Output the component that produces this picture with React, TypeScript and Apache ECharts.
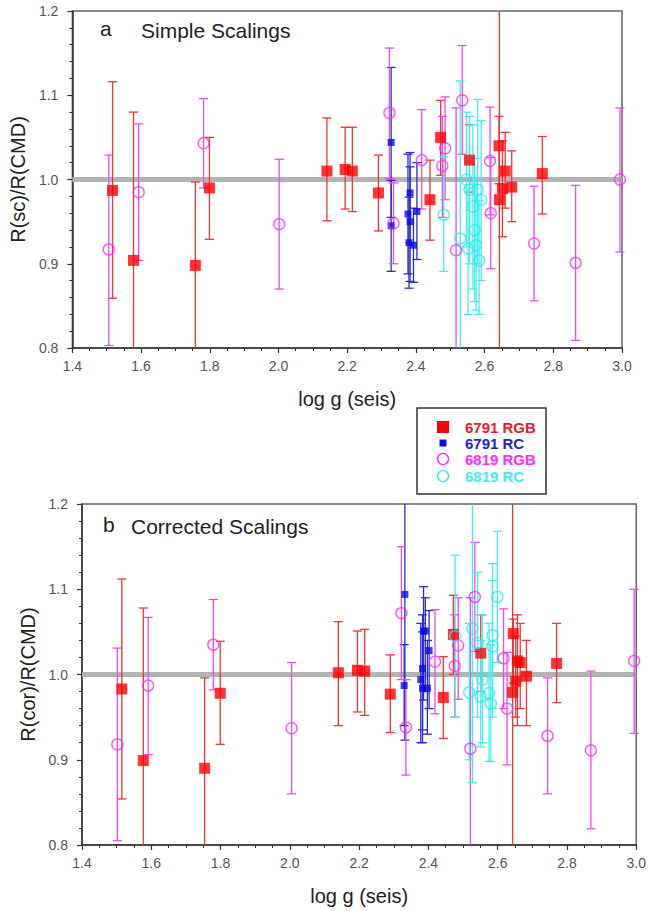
import React, { useEffect, useRef } from "react";
import * as echarts from "echarts";

// [logg, ratio, errLow, errHigh]
const rgb6791A = [
  [1.517, 0.987, 0.859, 1.116], [1.578, 0.904, 0.72, 1.08], [1.758, 0.898, 0.7, 0.997],
  [1.799, 0.99, 0.929, 1.05], [2.141, 1.01, 0.951, 1.073], [2.194, 1.012, 0.965, 1.062],
  [2.215, 1.01, 0.962, 1.062], [2.291, 0.984, 0.939, 1.029], [2.441, 0.976, 0.928, 1.023],
  [2.472, 1.05, 1.005, 1.094], [2.556, 1.023, 0.985, 1.065], [2.642, 1.04, 0.995, 1.075],
  [2.643, 0.976, 0.5, 1.5], [2.652, 0.989, 0.932, 1.046], [2.66, 1.01, 0.966, 1.056],
  [2.679, 0.991, 0.95, 1.034], [2.768, 1.007, 0.959, 1.051],
];
const rc6791A = [
  [2.328, 1.044, 0.955, 1.133], [2.328, 0.945, 0.891, 0.999], [2.377, 0.959, 0.888, 1.03],
  [2.383, 0.984, 0.925, 1.032], [2.38, 0.925, 0.871, 0.979], [2.383, 0.95, 0.879, 1.015],
  [2.393, 0.922, 0.878, 0.966], [2.403, 0.962, 0.905, 1.02],
];
const rgb6819A = [
  [1.506, 0.917, 0.803, 1.029], [1.593, 0.985, 0.904, 1.066], [1.782, 1.043, 0.99, 1.096],
  [2.002, 0.947, 0.87, 1.024], [2.323, 1.079, 1.001, 1.156], [2.335, 0.948, 0.9, 0.996],
  [2.417, 1.023, 0.965, 1.083], [2.477, 1.016, 0.955, 1.075], [2.485, 1.037, 0.976, 1.098],
  [2.517, 0.916, 0.745, 1.085], [2.535, 1.094, 1.03, 1.159], [2.616, 1.022, 0.958, 1.086],
  [2.618, 0.96, 0.894, 1.026], [2.744, 0.924, 0.856, 0.992], [2.865, 0.901, 0.809, 0.993],
  [2.994, 1.0, 0.914, 1.085],
];
const rc6819A = [
  [2.481, 0.958, 0.891, 1.027], [2.529, 0.93, 0.7, 1.117], [2.547, 1.0, 0.92, 1.08],
  [2.556, 0.988, 0.9, 1.075], [2.566, 0.968, 0.87, 1.065], [2.571, 0.94, 0.855, 1.025],
  [2.575, 0.922, 0.845, 1.0], [2.58, 0.988, 0.9, 1.095], [2.584, 0.904, 0.84, 0.975],
  [2.59, 0.976, 0.88, 1.07], [2.552, 0.918, 0.84, 0.99],
];

const rgb6791B = [
  [1.515, 0.983, 0.854, 1.112], [1.577, 0.899, 0.7, 1.078], [1.754, 0.89, 0.7, 0.996],
  [1.799, 0.978, 0.918, 1.039], [2.14, 1.002, 0.94, 1.062], [2.195, 1.005, 0.956, 1.051],
  [2.216, 1.004, 0.952, 1.053], [2.29, 0.977, 0.932, 1.023], [2.443, 0.973, 0.925, 1.021],
  [2.472, 1.047, 1.0, 1.093], [2.551, 1.025, 0.98, 1.07], [2.645, 1.048, 0.99, 1.065],
  [2.643, 0.979, 0.5, 1.5], [2.652, 0.992, 0.95, 1.045], [2.657, 1.016, 0.94, 1.07],
  [2.665, 1.014, 0.96, 1.06], [2.683, 0.998, 0.94, 1.04], [2.77, 1.013, 0.967, 1.06],
];
const rc6791B = [
  [2.332, 1.094, 0.923, 1.265], [2.33, 0.987, 0.94, 1.035], [2.386, 1.051, 0.97, 1.103],
  [2.391, 1.051, 0.98, 1.09], [2.402, 1.028, 0.96, 1.075], [2.383, 1.007, 0.935, 1.07],
  [2.378, 0.994, 0.92, 1.06], [2.383, 0.984, 0.92, 1.05], [2.397, 0.984, 0.93, 1.04],
];
const rgb6819B = [
  [1.502, 0.918, 0.805, 1.031], [1.591, 0.987, 0.906, 1.067], [1.779, 1.035, 0.982, 1.088],
  [2.005, 0.937, 0.86, 1.014], [2.322, 1.072, 0.994, 1.15], [2.335, 0.938, 0.882, 0.994],
  [2.419, 1.015, 0.954, 1.076], [2.476, 1.01, 0.95, 1.07], [2.486, 1.034, 0.971, 1.09],
  [2.521, 0.913, 0.7, 1.09], [2.534, 1.091, 1.027, 1.155], [2.617, 1.019, 0.96, 1.077],
  [2.627, 0.96, 0.894, 1.026], [2.744, 0.928, 0.86, 0.996], [2.869, 0.911, 0.819, 1.004],
  [2.994, 1.016, 0.931, 1.1],
];
const rc6819B = [
  [2.477, 1.045, 0.95, 1.14], [2.518, 0.979, 0.9, 1.06], [2.527, 1.054, 0.873, 1.235],
  [2.542, 1.037, 0.95, 1.12], [2.551, 0.974, 0.915, 1.04], [2.556, 0.994, 0.92, 1.07],
  [2.575, 0.978, 0.898, 1.06], [2.585, 1.046, 0.96, 1.13], [2.585, 1.033, 0.95, 1.11],
  [2.599, 1.091, 1.014, 1.168], [2.58, 0.966, 0.898, 1.035],
];

const xTicks = { min: 1.4, max: 3.0, step: 0.2 };
const yTicks = { min: 0.8, max: 1.2, step: 0.1 };
const refLine = [[1.4, 1.0], [3.0, 1.0]];
const legendNames = ["6791 RGB", "6791 RC", "6819 RGB", "6819 RC"];

const FONT = "'Liberation Sans', Arial, sans-serif";
const C = {
  red: "#ff0000", redBar: "#ee3434",
  blue: "#0a0ae6", blueBar: "#2b2bd8",
  mag: "#ff22ff", magBar: "#f048f0",
  cyan: "#22eeee", cyanBar: "#44eeee",
};

function errSeries(data: number[][], idx: number, color: string) {
  return {
    type: "custom",
    xAxisIndex: idx,
    yAxisIndex: idx,
    z: 2,
    data,
    encode: { x: 0, y: 1 },
    renderItem: (params: any, api: any) => {
      const x = api.value(0);
      const lo = api.value(2);
      const hi = api.value(3);
      const loC = Math.max(lo, yTicks.min);
      const hiC = Math.min(hi, yTicks.max);
      const p1 = api.coord([x, loC]);
      const p2 = api.coord([x, hiC]);
      const st = { stroke: color, lineWidth: 1.3 };
      const ch: any[] = [
        { type: "line", shape: { x1: p1[0], y1: p1[1], x2: p2[0], y2: p2[1] }, style: st },
      ];
      if (lo >= yTicks.min)
        ch.push({ type: "line", shape: { x1: p1[0] - 4.5, y1: p1[1], x2: p1[0] + 4.5, y2: p1[1] }, style: st });
      if (hi <= yTicks.max)
        ch.push({ type: "line", shape: { x1: p2[0] - 4.5, y1: p2[1], x2: p2[0] + 4.5, y2: p2[1] }, style: st });
      return { type: "group", children: ch };
    },
  };
}

function markSeries(data: number[][], idx: number, kind: string) {
  const base: any = {
    type: "scatter",
    xAxisIndex: idx,
    yAxisIndex: idx,
    z: 3,
    data: data.map((d) => [d[0], d[1]]),
  };
  if (kind === "rgb6791") return { ...base, symbol: "rect", symbolSize: 11, itemStyle: { color: C.red } };
  if (kind === "rc6791") return { ...base, symbol: "rect", symbolSize: 7, itemStyle: { color: C.blue } };
  const col = kind === "rgb6819" ? C.mag : C.cyan;
  return {
    ...base,
    symbol: "circle",
    symbolSize: 11,
    itemStyle: { color: "rgba(0,0,0,0)", borderColor: col, borderWidth: 1.3 },
  };
}

function axesFor(idx: number, yName: string) {
  const axisLine = { show: true, lineStyle: { color: "#333", width: 1.5 } };
  const x = {
    type: "value",
    gridIndex: idx,
    min: xTicks.min,
    max: xTicks.max,
    interval: xTicks.step,
    axisLine,
    axisTick: { show: true, length: 5, lineStyle: { color: "#333", width: 1.2 } },
    minorTick: { show: true, splitNumber: 4, length: 3, lineStyle: { color: "#333", width: 1 } },
    splitLine: { show: false },
    axisLabel: { fontSize: 14, color: "#555", margin: 11, fontFamily: FONT, formatter: (v: number) => v.toFixed(1) },
    name: "log g (seis)",
    nameLocation: "middle",
    nameGap: 41,
    nameTextStyle: { fontSize: 20, color: "#222", fontFamily: FONT },
  };
  const y = {
    type: "value",
    gridIndex: idx,
    min: yTicks.min,
    max: yTicks.max,
    interval: yTicks.step,
    axisLine,
    axisTick: { show: true, length: 5, lineStyle: { color: "#333", width: 1.2 } },
    minorTick: { show: true, splitNumber: 5, length: 3, lineStyle: { color: "#333", width: 1 } },
    splitLine: { show: false },
    axisLabel: { fontSize: 14, color: "#555", margin: 14, fontFamily: FONT, formatter: (v: number) => v.toFixed(1) },
    name: yName,
    nameLocation: "middle",
    nameGap: 37,
    nameTextStyle: { fontSize: 20, color: "#222", fontFamily: FONT },
  };
  return { x, y };
}

export default function App() {
  const ref = useRef<HTMLDivElement>(null);
  useEffect(() => {
    if (!ref.current) return;
    const chart = echarts.init(ref.current, undefined, { renderer: "svg" });
    const a = axesFor(0, "R(sc)/R(CMD)");
    const b = axesFor(1, "R(cor)/R(CMD)");
    const panels = [
      [rgb6791A, rc6791A, rgb6819A, rc6819A],
      [rgb6791B, rc6791B, rgb6819B, rc6819B],
    ];
    const series: any[] = [];
    panels.forEach((p, i) => {
      series.push({
        type: "line",
        xAxisIndex: i,
        yAxisIndex: i,
        data: refLine,
        symbol: "none",
        z: 1,
        lineStyle: { color: "#b3b3b3", width: 5 },
        silent: true,
      });
      series.push(errSeries(p[0], i, C.redBar));
      series.push(errSeries(p[1], i, C.blueBar));
      series.push(errSeries(p[2], i, C.magBar));
      series.push(errSeries(p[3], i, C.cyanBar));
      series.push(markSeries(p[0], i, "rgb6791"));
      series.push(markSeries(p[1], i, "rc6791"));
      series.push(markSeries(p[2], i, "rgb6819"));
      series.push(markSeries(p[3], i, "rc6819"));
    });
    const legendY = [427, 443, 459, 476];
    const legendColors = ["#e8202a", "#2424cc", "#ff2cff", "#3cf0f0"];
    const titleFont = `21px ${FONT}`;
    const legFont = `bold 15px ${FONT}`;
    chart.setOption({
      animation: false,
      backgroundColor: "#fff",
      grid: [
        { left: 72, top: 11, width: 550, height: 337, show: true, borderColor: "#666", borderWidth: 1.5 },
        { left: 82, top: 504, width: 555, height: 341, show: true, borderColor: "#666", borderWidth: 1.5 },
      ],
      xAxis: [a.x, b.x],
      yAxis: [a.y, b.y],
      series,
      graphic: [
        { type: "text", left: 100, top: 18, style: { text: "a", font: titleFont, fill: "#222" } },
        { type: "text", left: 141, top: 20, style: { text: "Simple Scalings", font: titleFont, fill: "#222" } },
        { type: "text", left: 103, top: 514, style: { text: "b", font: titleFont, fill: "#222" } },
        { type: "text", left: 131, top: 516, style: { text: "Corrected Scalings", font: titleFont, fill: "#222" } },
        {
          type: "rect",
          shape: { x: 417, y: 408, width: 129, height: 86 },
          style: { fill: "#fff", stroke: "#333", lineWidth: 1.5 },
          z: 10,
        },
        { type: "rect", shape: { x: 437, y: legendY[0] - 6, width: 12, height: 12 }, style: { fill: C.red }, z: 11 },
        { type: "rect", shape: { x: 439.5, y: legendY[1] - 3.5, width: 7, height: 7 }, style: { fill: C.blue }, z: 11 },
        { type: "circle", shape: { cx: 443, cy: legendY[2], r: 5.5 }, style: { fill: "none", stroke: C.mag, lineWidth: 1.3 }, z: 11 },
        { type: "circle", shape: { cx: 443, cy: legendY[3], r: 5.5 }, style: { fill: "none", stroke: C.cyan, lineWidth: 1.3 }, z: 11 },
        ...legendNames.map((n, i) => ({
          type: "text",
          x: 465,
          y: legendY[i],
          z: 11,
          style: { text: n, font: legFont, fill: legendColors[i], verticalAlign: "middle", textVerticalAlign: "middle" },
        })),
      ],
    });
    return () => chart.dispose();
  }, []);
  return <div ref={ref} style={{ position: "absolute", left: 0, top: 0, width: 649, height: 911 }} />;
}
